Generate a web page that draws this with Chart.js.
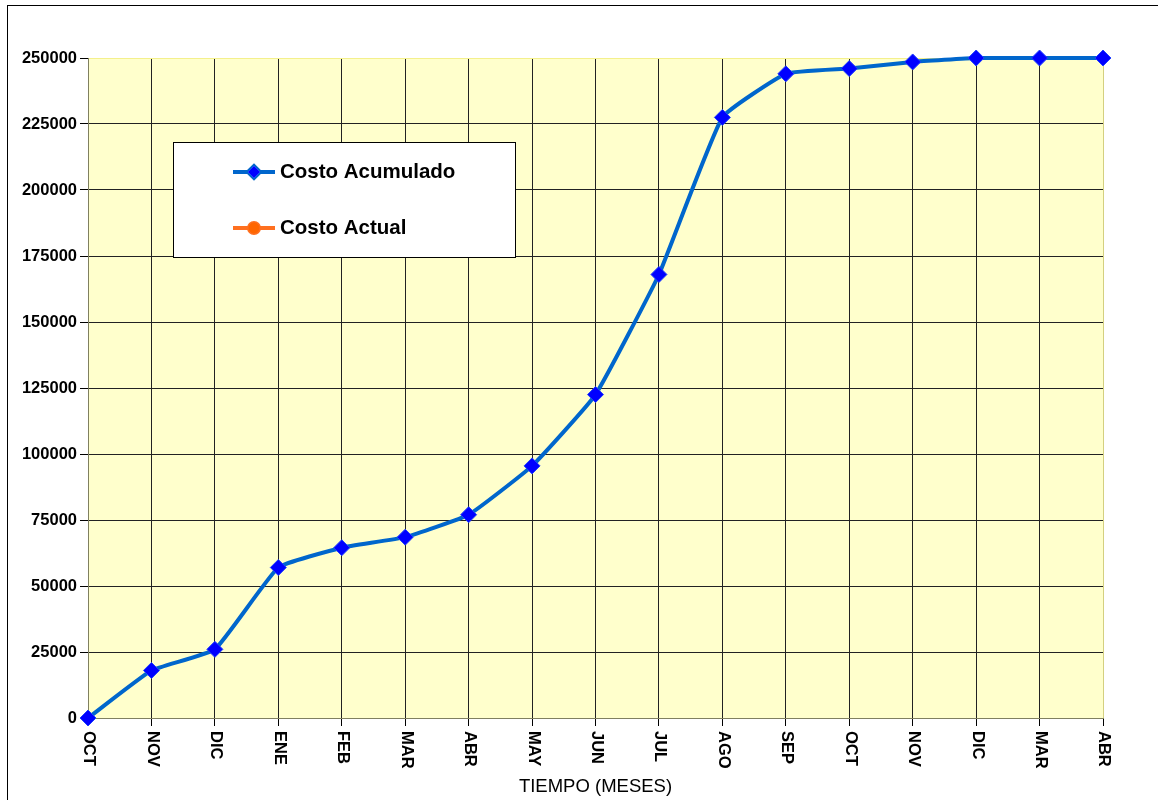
<!DOCTYPE html>
<html>
<head>
<meta charset="utf-8">
<script src="https://cdn.jsdelivr.net/npm/chart.js@4"></script>
<style>
  body { margin: 0; background: #fff; }
  #wrap { width: 1158px; height: 800px; }
</style>
</head>
<body>
<div id="wrap"><canvas id="myChart" width="1158" height="800"></canvas></div>
<script>
const months = ["OCT", "NOV", "DIC", "ENE", "FEB", "MAR", "ABR", "MAY", "JUN", "JUL", "AGO", "SEP", "OCT", "NOV", "DIC", "MAR", "ABR"];
const costoAcumulado = [0, 18000, 26000, 57000, 64500, 68500, 77000, 95500, 122500, 168000, 227500, 244000, 246000, 248500, 250000, 250000, 250000];
const costoActual = [];
const yTicks = [0, 25000, 50000, 75000, 100000, 125000, 150000, 175000, 200000, 225000, 250000];

const FONT = "'Liberation Sans', Arial, sans-serif";

// yellow plot background + outer frame
const backdrop = {
  id: "backdrop",
  beforeDraw(chart) {
    const ctx = chart.ctx;
    const a = chart.chartArea;
    ctx.save();
    ctx.fillStyle = "#fff";
    ctx.fillRect(0, 0, chart.width, chart.height);
    ctx.strokeStyle = "#000";
    ctx.lineWidth = 1;
    ctx.strokeRect(7.5, 5.5, 1300, 1000);
    ctx.fillStyle = "#FFFFCC";
    ctx.fillRect(a.left, a.top, a.right - a.left, a.bottom - a.top);
    ctx.restore();
  }
};

// x labels read top to bottom
const xLabels = {
  id: "xLabels",
  afterDraw(chart) {
    const ctx = chart.ctx;
    const sx = chart.scales.x;
    ctx.save();
    ctx.fillStyle = "#000";
    ctx.font = "bold 16.5px " + FONT;
    ctx.textAlign = "left";
    ctx.textBaseline = "middle";
    months.forEach((m, i) => {
      const x = sx.getPixelForTick(i);
      ctx.save();
      ctx.translate(x + 1, chart.chartArea.bottom + 13);
      ctx.rotate(Math.PI / 2);
      ctx.fillText(m, 0, 0);
      ctx.restore();
    });
    ctx.restore();
  }
};

// boxed legend inside the plot
const boxLegend = {
  id: "boxLegend",
  afterDatasetsDraw(chart) {
    const ctx = chart.ctx;
    const bx = 173, by = 142, bw = 342, bh = 115;
    ctx.save();
    ctx.fillStyle = "#fff";
    ctx.fillRect(bx, by, bw, bh);
    ctx.strokeStyle = "#000";
    ctx.lineWidth = 1;
    ctx.strokeRect(bx + 0.5, by + 0.5, bw, bh);
    chart.data.datasets.forEach((ds, i) => {
      const y = 172 + i * 56;
      ctx.strokeStyle = ds.borderColor;
      ctx.lineWidth = 4;
      ctx.beginPath();
      ctx.moveTo(233, y);
      ctx.lineTo(275, y);
      ctx.stroke();
      Chart.helpers.drawPoint(ctx, {
        pointStyle: ds.pointStyle,
        radius: ds.pointStyle === "circle" ? 5 : 6,
        borderWidth: 1
      }, 254, y);
      ctx.fillStyle = ds.pointBackgroundColor;
      ctx.strokeStyle = ds.pointBorderColor;
      ctx.lineWidth = 1;
      ctx.fill();
      ctx.stroke();
      ctx.fillStyle = "#000";
      ctx.font = "bold 20.5px " + FONT;
      ctx.textAlign = "left";
      ctx.textBaseline = "middle";
      ctx.fillText(ds.label, 280, y);
    });
    ctx.restore();
  }
};

new Chart(document.getElementById("myChart"), {
  type: "line",
  data: {
    labels: months,
    datasets: [
      {
        label: "Costo Acumulado",
        data: costoAcumulado,
        borderColor: "#0066CC",
        borderWidth: 4,
        tension: 0.12,
        clip: false,
        pointStyle: "rectRot",
        pointRadius: 8,
        pointBackgroundColor: "#0000FF",
        pointBorderColor: "#2040FF",
        pointBorderWidth: 1,
        fill: false,
      },
      {
        label: "Costo Actual",
        data: costoActual,
        borderColor: "#FF7020",
        borderWidth: 4,
        pointStyle: "circle",
        pointRadius: 6,
        pointBackgroundColor: "#FF6600",
        pointBorderColor: "#FF6600",
        fill: false,
      },
    ],
  },
  options: {
    responsive: false,
    animation: false,
    layout: { padding: { top: 58, right: 55, left: 0, bottom: 0 } },
    plugins: {
      legend: { display: false },
      tooltip: { enabled: false },
    },
    scales: {
      x: {
        offset: false,
        ticks: { display: false },
        grid: {
          color: (c) => (c.index === months.length - 1 ? "#D4D080" : "#222"),
          tickColor: "#000",
          tickLength: 8,
        },
        border: { color: "#808060", width: 1 },
        title: {
          display: true,
          text: "TIEMPO (MESES)",
          color: "#000",
          font: { family: FONT, size: 18.5, weight: "normal" },
          padding: { top: 4, bottom: 2 },
        },
        afterFit(scale) {
          scale.height = 82;
        },
      },
      y: {
        min: 0,
        max: 250000,
        afterBuildTicks(scale) {
          scale.ticks = yTicks.map((v) => ({ value: v }));
        },
        ticks: {
          color: "#000",
          padding: 3,
          font: { family: FONT, size: 16.5, weight: "bold" },
          callback: (v) => String(v),
        },
        grid: {
          color: (c) => (c.index === yTicks.length - 1 ? "#F4F08C" : "#222"),
          tickColor: "#000",
          tickLength: 8,
        },
        border: { color: "#808060", width: 1 },
        afterFit(scale) {
          scale.width = 88;
        },
      },
    },
  },
  plugins: [backdrop, xLabels, boxLegend],
});
</script>
</body>
</html>
